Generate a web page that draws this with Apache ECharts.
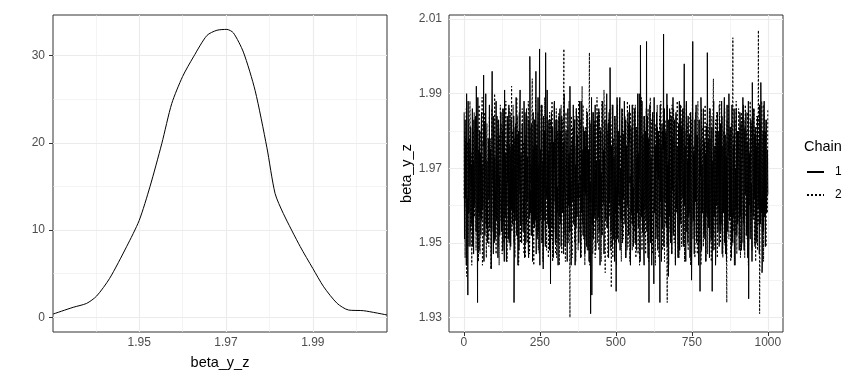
<!DOCTYPE html>
<html><head><meta charset="utf-8">
<script src="https://cdn.jsdelivr.net/npm/echarts@6/dist/echarts.min.js"></script>
<style>html,body{margin:0;padding:0;background:#fff}#c{width:864px;height:384px}</style>
</head><body><div id="c"></div>
<script>
// ---- density panel data ----
const densityX = [1.9302,1.9348,1.9379,1.9402,1.9432,1.9471,1.9500,1.9525,1.9552,1.9575,1.9600,1.9625,1.9656,1.9679,1.9702,1.9717,1.9740,1.9767,1.9794,1.9813,1.9832,1.9871,1.9900,1.9925,1.9956,1.9982,2.0017,2.0071];
const densityY = [0.38,1.15,1.6,2.44,4.47,8.1,11.1,15.0,19.9,24.5,27.6,29.85,32.3,32.9,33.0,32.6,30.4,26.0,19.5,14.2,11.9,8.1,5.6,3.5,1.6,0.84,0.76,0.27];
const densXTicks = [1.95,1.97,1.99];
const densXMinor = [1.94,1.96,1.98,2.00];
const densYTicks = [0,10,20,30];
const densYMinor = [5,15,25];

// ---- trace panel data (iterations 1..1000) ----
const chain1 = [
1.985,1.951,1.970,1.983,1.962,1.969,1.976,1.944,1.990,1.977,1.957,1.962,1.936,1.988,1.961,1.958,1.978,1.973,1.968,1.949,1.958,1.981,1.975,1.965,1.971,1.955,1.955,1.986,1.949,1.970,1.972,1.947,1.983,1.979,1.960,1.961,1.966,1.984,1.979,1.953,
1.992,1.974,1.963,1.957,1.934,1.989,1.958,1.963,1.975,1.948,1.969,1.980,1.957,1.966,1.974,1.952,1.980,1.985,1.956,1.971,1.964,1.959,1.977,1.976,1.995,1.945,1.962,1.982,1.952,1.964,1.981,1.990,1.973,1.956,1.954,1.972,1.960,1.950,1.971,1.978,
1.977,1.962,1.964,1.987,1.955,1.954,1.973,1.975,1.969,1.943,1.958,1.981,1.996,1.968,1.966,1.959,1.947,1.984,1.978,1.950,1.972,1.973,1.951,1.961,1.961,1.988,1.975,1.956,1.984,1.977,1.963,1.946,1.954,1.983,1.980,1.965,1.968,1.952,1.957,1.979,
1.979,1.985,1.967,1.953,1.958,1.970,1.980,1.948,1.986,1.982,1.961,1.961,1.945,1.991,1.972,1.957,1.970,1.974,1.955,1.945,1.963,1.980,1.984,1.966,1.982,1.951,1.966,1.987,1.950,1.960,1.976,1.976,1.974,1.949,1.957,1.983,1.959,1.968,1.970,1.955,
1.976,1.958,1.962,1.984,1.934,1.947,1.971,1.977,1.981,1.965,1.956,1.989,1.960,1.952,1.979,1.971,1.972,1.944,1.965,1.980,1.948,1.963,1.974,1.986,1.991,1.955,1.959,1.974,1.957,1.950,1.968,1.982,1.978,1.967,1.953,1.959,1.964,1.988,1.977,1.946,
1.985,1.979,1.966,1.950,1.953,1.986,1.978,1.961,1.970,1.973,1.960,1.948,1.946,1.983,1.973,1.957,2.000,1.990,1.958,1.964,1.961,1.952,1.982,1.978,1.975,1.945,1.964,1.985,1.955,1.969,1.976,1.954,1.983,1.981,1.956,1.960,1.996,1.947,1.969,1.976,
1.951,1.966,1.975,1.989,1.972,1.953,1.963,1.980,2.002,1.944,1.970,1.975,1.958,1.961,1.981,1.987,1.977,1.950,1.957,1.972,1.943,1.984,1.972,1.956,1.980,1.978,1.961,1.949,2.001,1.982,1.967,1.963,1.962,1.991,1.979,1.955,1.974,1.970,1.954,1.983,
1.956,1.948,1.973,1.977,1.939,1.962,1.968,1.985,1.979,1.954,1.955,1.981,1.965,1.946,1.977,1.970,1.987,1.988,1.962,1.959,1.950,1.976,1.983,1.951,1.971,1.983,1.958,1.965,1.960,1.944,1.974,1.979,1.984,1.957,1.965,1.986,1.955,1.962,1.980,1.949,
1.973,1.984,1.959,1.958,1.962,1.975,1.977,1.947,1.980,1.990,1.964,1.963,1.949,1.952,1.971,1.980,1.976,1.968,1.956,1.945,1.958,1.986,1.980,1.960,1.969,1.974,1.967,1.953,1.992,1.982,1.960,1.966,1.944,1.949,1.975,1.977,1.978,1.961,1.963,1.987,
1.961,1.955,1.970,1.982,1.983,1.944,1.957,1.971,1.954,1.986,1.976,1.957,1.971,1.979,1.962,1.962,1.966,1.950,1.979,1.984,1.988,1.967,1.968,1.946,1.952,1.988,1.974,1.958,1.975,1.973,1.958,1.952,1.959,1.981,1.972,1.964,1.980,1.947,1.965,1.976,
1.963,1.980,1.958,1.949,1.977,1.985,1.969,1.960,1.948,1.975,1.975,1.945,1.972,1.983,1.961,1.966,1.931,1.954,1.966,1.989,1.936,1.958,1.955,1.977,1.985,1.951,1.973,1.982,1.957,1.963,1.978,1.987,1.970,1.948,1.960,1.972,1.962,1.956,1.976,1.984,
1.979,1.957,1.965,1.986,1.953,1.963,1.972,1.944,1.974,1.980,1.959,1.969,1.960,1.952,1.980,1.988,1.986,1.961,1.963,1.975,1.947,1.947,1.977,1.983,1.968,1.958,1.956,1.971,1.981,1.990,1.970,1.954,1.955,1.978,1.982,1.946,1.973,1.985,1.961,1.962,
1.997,1.982,1.969,1.953,1.958,1.976,1.975,1.949,1.976,1.987,1.962,1.960,1.951,1.973,1.967,1.945,1.984,1.981,1.958,1.965,1.937,1.956,1.974,1.989,1.971,1.951,1.980,1.979,1.963,1.964,1.960,1.984,1.989,1.948,1.966,1.970,1.956,1.958,1.978,1.986,
1.975,1.950,1.957,1.979,1.962,1.962,1.971,1.988,1.982,1.955,1.964,1.983,1.946,1.946,1.976,1.974,1.970,1.960,1.960,1.985,1.959,1.952,1.982,1.977,1.987,1.966,1.968,1.944,1.953,1.981,1.973,1.958,1.978,1.987,1.955,1.963,1.965,1.949,1.970,1.975,
1.983,1.986,1.966,1.957,1.950,1.981,1.978,1.948,1.973,1.972,1.958,1.990,1.961,1.954,1.974,1.967,1.990,1.983,1.963,1.945,2.003,1.978,1.969,1.961,1.957,1.988,1.977,1.953,1.979,1.975,1.961,1.947,1.944,1.984,1.981,1.959,1.972,1.980,1.956,1.964,
2.004,1.953,1.968,1.984,1.960,1.946,1.975,1.978,1.934,1.961,1.962,1.987,1.977,1.950,1.970,1.973,1.965,1.944,1.979,1.982,1.985,1.966,1.957,1.955,1.939,1.989,1.973,1.958,1.974,1.976,1.964,1.951,1.958,1.985,1.976,1.969,1.981,1.948,1.960,1.980,
1.967,1.978,1.972,1.952,1.934,1.987,1.961,1.963,1.976,1.945,1.969,1.982,1.954,1.958,1.980,1.975,2.006,1.949,1.958,1.986,1.962,1.961,1.974,1.979,1.980,1.954,1.965,1.990,1.949,1.966,1.971,1.947,1.941,1.983,1.977,1.957,1.986,1.972,1.963,1.950,
1.961,1.984,1.975,1.947,1.978,1.971,1.964,1.989,1.952,1.956,1.979,1.980,1.983,1.963,1.960,1.944,1.966,1.985,1.970,1.959,1.974,1.976,1.957,1.951,1.946,1.982,1.976,1.967,1.988,1.948,1.966,1.987,1.959,1.955,1.981,1.978,1.971,1.962,1.962,1.986,
1.955,1.949,1.973,1.981,1.998,1.960,1.967,1.976,1.964,1.945,1.982,1.988,1.979,1.953,1.958,1.972,1.950,1.984,1.971,1.957,1.976,1.979,1.963,1.946,1.961,1.985,1.978,1.964,1.940,1.951,1.969,1.982,2.004,1.959,1.956,1.974,1.968,1.947,1.975,1.983,
1.982,1.961,1.964,1.987,1.956,1.950,1.977,1.979,1.974,1.966,1.960,1.944,1.963,1.983,1.972,1.955,1.937,1.975,1.968,1.989,1.985,1.948,1.961,1.971,1.958,1.958,1.979,1.986,1.972,1.952,1.965,1.977,1.951,1.964,1.974,1.945,1.980,1.981,1.959,1.957,
2.001,1.983,1.970,1.954,1.962,1.978,1.978,1.946,1.977,1.986,1.963,1.962,1.954,1.951,1.975,1.981,1.937,1.967,1.972,1.948,1.983,1.988,1.958,1.957,1.966,1.974,1.976,1.944,1.948,1.980,1.969,1.960,1.975,1.985,1.961,1.953,1.960,1.976,1.980,1.949,
1.984,1.955,1.966,1.982,1.953,1.962,1.974,1.988,1.971,1.947,1.961,1.976,1.965,1.958,1.979,1.984,1.989,1.950,1.960,1.979,1.947,1.965,1.973,1.945,1.976,1.987,1.967,1.953,1.961,1.973,1.977,1.990,1.982,1.956,1.958,1.981,1.957,1.961,1.970,1.946,
1.973,1.987,1.962,1.951,1.950,1.975,1.976,1.957,1.986,1.983,1.968,1.944,1.963,1.970,1.959,1.986,1.978,1.952,1.974,1.980,1.955,1.961,1.980,1.977,1.969,1.948,1.963,1.985,1.984,1.959,1.957,1.982,1.948,1.950,1.972,1.973,1.974,1.989,1.965,1.956,
1.960,1.948,1.975,1.980,1.981,1.963,1.964,1.985,1.952,1.953,1.971,1.977,1.977,1.946,1.960,1.988,1.935,1.960,1.969,1.974,1.970,1.951,1.976,1.983,1.958,1.966,1.962,1.945,1.993,1.979,1.974,1.957,1.964,1.986,1.978,1.962,1.979,1.949,1.958,1.981,
1.956,1.976,1.971,1.950,1.975,1.984,1.963,1.959,1.961,1.972,1.977,1.947,1.987,1.986,1.966,1.955,1.993,1.981,1.958,1.962,1.942,1.944,1.973,1.979,1.980,1.953,1.965,1.988,1.957,1.965,1.979,1.949,1.972,1.983,1.962,1.958,1.968,1.975,1.974,1.963];
const chain2 = [
1.962,1.980,1.974,1.946,1.978,1.971,1.960,1.986,1.941,1.955,1.968,1.977,1.975,1.949,1.955,1.983,1.958,1.962,1.977,1.988,1.983,1.953,1.963,1.974,1.965,1.944,1.971,1.981,1.952,1.966,1.980,1.951,1.979,1.985,1.957,1.958,1.970,1.976,1.966,1.948,
1.956,1.983,1.972,1.952,1.981,1.977,1.961,1.945,1.963,1.987,1.976,1.964,1.947,1.950,1.967,1.980,1.976,1.958,1.958,1.989,1.944,1.947,1.973,1.973,1.972,1.961,1.960,1.984,1.985,1.955,1.969,1.978,1.959,1.946,1.978,1.982,1.968,1.966,1.955,1.951,
1.974,1.949,1.963,1.984,1.953,1.960,1.970,1.978,1.943,1.945,1.965,1.986,1.980,1.968,1.958,1.953,1.961,1.981,1.975,1.957,1.990,1.988,1.962,1.962,1.957,1.947,1.979,1.976,1.971,1.952,1.966,1.983,1.949,1.965,1.972,1.944,1.978,1.979,1.959,1.987,
1.964,1.956,1.976,1.981,1.982,1.947,1.961,1.986,1.955,1.963,1.973,1.950,1.969,1.979,1.957,1.955,1.951,1.988,1.970,1.960,1.977,1.945,1.964,1.983,1.960,1.969,1.975,1.952,1.986,1.977,1.960,1.948,1.958,1.985,1.968,1.961,1.992,1.953,1.971,1.980,
1.966,1.987,1.958,1.953,1.950,1.978,1.972,1.946,1.979,1.982,1.964,1.958,1.962,1.989,1.977,1.951,1.984,1.974,1.959,1.944,1.947,1.985,1.969,1.963,1.973,1.950,1.962,1.980,1.958,1.965,1.978,1.986,1.981,1.955,1.966,1.977,1.963,1.947,1.974,1.983,
1.954,1.946,1.969,1.979,1.976,1.955,1.961,1.984,1.968,1.950,1.975,1.988,1.985,1.962,1.963,1.947,1.952,1.981,1.972,1.966,1.971,1.952,1.958,1.986,1.994,1.958,1.967,1.975,1.959,1.944,1.976,1.983,1.978,1.957,1.960,1.989,1.961,1.953,1.973,1.978,
1.982,1.952,1.965,1.985,1.948,1.961,1.971,1.947,1.973,1.980,1.960,1.956,1.964,1.987,1.978,1.950,1.987,1.976,1.963,1.945,1.956,1.983,1.974,1.964,1.970,1.989,1.957,1.953,1.980,1.979,1.968,1.948,1.953,1.984,1.977,1.958,1.975,1.946,1.962,1.982,
1.960,1.985,1.970,1.949,1.983,1.979,1.963,1.956,1.951,1.988,1.976,1.945,1.972,1.975,1.959,1.953,1.966,1.982,1.974,1.961,1.978,1.947,1.965,1.986,1.946,1.957,1.972,1.980,1.969,1.950,1.961,1.977,1.985,1.944,1.967,1.983,1.957,1.963,1.979,1.987,
1.976,1.947,1.964,1.983,1.962,1.958,1.975,1.987,2.002,1.952,1.966,1.978,1.954,1.945,1.971,1.985,1.979,1.960,1.958,1.950,1.963,1.981,1.973,1.956,1.950,1.988,1.969,1.948,1.930,1.976,1.962,1.953,1.974,1.984,1.970,1.946,1.981,1.979,1.960,1.955,
1.958,1.984,1.972,1.950,1.970,1.976,1.963,1.945,1.948,1.986,1.977,1.957,1.984,1.980,1.960,1.948,1.961,1.988,1.968,1.962,1.975,1.953,1.961,1.983,1.955,1.946,1.974,1.978,1.992,1.955,1.965,1.987,1.966,1.951,1.959,1.973,1.952,1.944,1.975,1.981,
1.980,1.951,1.966,1.986,1.963,1.948,1.974,1.979,1.977,1.957,1.959,1.984,2.001,1.944,1.970,1.982,1.957,1.955,1.976,1.988,1.972,1.961,1.962,1.947,1.949,1.985,1.971,1.953,1.983,1.977,1.958,1.946,1.960,1.983,1.973,1.959,1.968,1.989,1.964,1.950,
1.985,1.977,1.961,1.948,1.954,1.985,1.970,1.956,1.975,1.981,1.964,1.945,1.962,1.988,1.977,1.952,1.979,1.979,1.960,1.960,1.991,1.984,1.967,1.949,1.942,1.973,1.973,1.987,1.971,1.954,1.963,1.980,1.958,1.946,1.972,1.983,1.976,1.957,1.958,1.986,
1.965,1.948,1.972,1.982,1.938,1.953,1.966,1.987,1.982,1.946,1.959,1.978,1.956,1.956,1.975,1.984,1.973,1.950,1.963,1.976,1.961,1.944,1.970,1.986,1.987,1.961,1.961,1.980,1.950,1.952,1.976,1.988,1.969,1.957,1.964,1.979,1.978,1.945,1.960,1.983,
1.953,1.986,1.968,1.951,1.974,1.980,1.960,1.957,1.964,1.984,1.975,1.946,1.983,1.977,1.962,1.953,1.948,1.988,1.971,1.949,1.970,1.982,1.966,1.960,1.959,1.945,1.978,1.985,1.981,1.955,1.958,1.979,1.955,1.948,1.969,1.987,1.972,1.962,1.965,1.950,
1.986,1.953,1.963,1.987,1.957,1.946,1.974,1.981,1.968,1.960,1.961,1.985,1.947,1.950,1.970,1.978,1.979,1.944,1.965,1.983,1.962,1.956,1.977,1.989,1.975,1.948,1.959,1.976,1.952,1.962,1.972,1.984,1.984,1.952,1.960,1.980,1.966,1.947,1.973,1.986,
1.958,1.982,1.970,1.950,1.977,1.986,1.964,1.945,1.963,1.979,1.976,1.955,1.989,1.988,1.961,1.961,1.951,1.983,1.968,1.947,1.973,1.976,1.959,1.953,1.960,1.985,1.974,1.958,1.982,1.944,1.966,1.981,1.954,1.957,1.972,1.987,1.971,1.951,1.962,1.978,
1.980,1.946,1.967,1.984,1.961,1.957,1.973,1.988,1.976,1.951,1.960,1.980,1.949,1.948,1.971,1.986,1.985,1.962,1.963,1.945,1.964,1.983,1.975,1.955,1.956,1.979,1.969,1.949,1.934,1.987,1.962,1.960,1.972,1.944,1.958,1.982,1.978,1.953,1.970,1.985,
1.962,1.983,1.974,1.947,1.987,1.980,1.963,1.954,1.953,1.986,1.969,1.950,1.970,1.977,1.977,1.945,1.958,1.984,1.961,1.958,1.981,1.988,1.966,1.952,1.946,1.975,1.972,1.946,1.975,1.982,1.960,1.956,1.965,1.987,1.976,1.949,1.983,1.979,1.964,1.961,
1.955,1.950,1.969,1.986,1.973,1.945,1.961,1.980,1.960,1.957,1.975,1.987,1.984,1.953,1.964,1.982,1.950,1.948,1.972,1.978,1.977,1.960,1.958,1.985,1.963,1.944,1.970,1.983,1.969,1.955,1.976,1.989,1.981,1.951,1.962,1.976,1.957,1.962,1.973,1.946,
1.974,1.985,1.963,1.953,1.952,1.979,1.972,1.947,1.982,1.988,1.960,1.956,1.966,1.983,1.975,1.950,1.978,1.976,1.965,1.944,1.948,1.986,1.970,1.961,1.971,1.981,1.961,1.949,1.959,1.978,1.977,1.954,1.986,1.987,1.967,1.945,1.962,1.982,1.959,1.958,
1.977,1.947,1.966,1.981,1.955,1.956,1.973,1.986,1.980,1.950,1.962,1.978,1.963,1.945,1.969,1.984,1.951,1.959,1.976,1.988,1.994,1.952,1.960,1.976,1.968,1.948,1.974,1.983,1.957,1.955,1.964,1.985,1.975,1.946,1.970,1.980,1.961,1.961,1.958,1.987,
1.983,1.988,1.968,1.950,1.954,1.977,1.975,1.955,1.972,1.984,1.961,1.946,1.960,1.980,1.971,1.958,1.978,1.986,1.964,1.949,1.949,1.975,1.977,1.944,1.934,1.983,1.966,1.957,1.976,1.987,1.960,1.951,1.963,1.979,1.973,1.962,1.981,1.945,1.962,1.982,
1.958,1.949,1.972,1.985,2.005,1.953,1.963,1.979,1.966,1.944,1.975,1.983,1.952,1.960,1.969,1.988,1.979,1.947,1.961,1.976,1.961,1.956,1.974,1.986,1.974,1.951,1.958,1.981,1.956,1.946,1.970,1.978,1.985,1.955,1.965,1.984,1.968,1.950,1.976,1.987,
1.955,1.983,1.964,1.946,1.977,1.987,1.970,1.957,1.962,1.980,1.976,1.951,1.981,1.985,1.960,1.944,1.950,1.978,1.972,1.960,1.973,1.988,1.963,1.953,1.959,1.982,1.968,1.948,1.984,1.976,1.975,1.956,1.966,1.986,1.961,1.950,1.952,1.981,1.971,1.945,
1.979,1.951,1.966,1.984,1.963,1.948,1.972,1.979,2.007,1.955,1.960,1.987,1.931,1.946,1.969,1.982,1.975,1.960,1.964,1.988,1.958,1.953,1.977,1.977,1.987,1.945,1.962,1.985,1.970,1.957,1.971,1.980,1.961,1.949,1.975,1.983,1.974,1.958,1.967,1.986];
const iterStep = 1;
const chainNames = ['1','2'];
const traceXTicks = [0,250,500,750,1000];
const traceXMinor = [125,375,625,875];
const traceYTicks = [1.93,1.95,1.97,1.99,2.01];
const traceYMinor = [1.94,1.96,1.98,2.00];

const font = '"Liberation Sans", Arial, sans-serif';
const chart = echarts.init(document.getElementById('c'), null, {renderer:'canvas'});

function gridMarks(xMaj, xMin, yMaj, yMin) {
  const d = [];
  xMaj.forEach(v => d.push({xAxis: v, lineStyle:{width:1.1, color:'#EBEBEB', type:'solid'}}));
  xMin.forEach(v => d.push({xAxis: v, lineStyle:{width:0.55, color:'#EBEBEB', type:'solid'}}));
  yMaj.forEach(v => d.push({yAxis: v, lineStyle:{width:1.1, color:'#EBEBEB', type:'solid'}}));
  yMin.forEach(v => d.push({yAxis: v, lineStyle:{width:0.55, color:'#EBEBEB', type:'solid'}}));
  return {silent:true, symbol:['none','none'], label:{show:false}, animation:false, z:1, data:d, emphasis:{disabled:true}};
}
function axisBase(ticks, fmt, margin) {
  return {
    axisLine:{show:false},
    axisTick:{show:true, customValues:ticks, length:4, lineStyle:{color:'#333333', width:1}},
    axisLabel:{customValues:ticks, formatter:fmt, color:'#4D4D4D', fontSize:12, fontFamily:font, margin:margin},
    splitLine:{show:false}, minorSplitLine:{show:false}
  };
}
const fmt2 = v => Number(v).toFixed(2);
const fmt0 = v => String(Math.round(v));

const option = {
  animation:false,
  backgroundColor:'#ffffff',
  title:{text:'Chain', left:804, top:139, padding:0, textStyle:{fontSize:14.5, fontWeight:'normal', color:'#000', fontFamily:font}},
  legend:{
    data:chainNames, orient:'vertical', left:806, top:166, padding:0, itemWidth:17, itemHeight:14, itemGap:11,
    itemStyle:{opacity:0},
    textStyle:{fontSize:12, color:'#000', fontFamily:font, padding:[0,0,0,6]}
  },
  grid:[
    {left:53, top:15, right:477, bottom:52, show:true, borderColor:'#333333', borderWidth:1, backgroundColor:'#fff'},
    {left:449, top:15, right:81, bottom:52, show:true, borderColor:'#333333', borderWidth:1, backgroundColor:'#fff'}
  ],
  xAxis:[
    Object.assign(axisBase(densXTicks, fmt2, 5), {type:'value', gridIndex:0, min:1.93015, max:2.00708,
      name:'beta_y_z', nameLocation:'middle', nameGap:23, nameTextStyle:{color:'#000', fontSize:14.5, fontFamily:font}}),
    Object.assign(axisBase(traceXTicks, fmt0, 5), {type:'value', gridIndex:1, min:-48.95, max:1049.95})
  ],
  yAxis:[
    Object.assign(axisBase(densYTicks, fmt0, 8), {type:'value', gridIndex:0, min:-1.68, max:34.65}),
    Object.assign(axisBase(traceYTicks, fmt2, 7), {type:'value', gridIndex:1, min:1.9261, max:2.0111,
      name:'beta_y_z', nameLocation:'middle', nameGap:32, nameRotate:90, nameTextStyle:{color:'#000', fontSize:14.5, fontFamily:font}})
  ],
  series:[
    {type:'line', xAxisIndex:0, yAxisIndex:0, data:[], z:1, markLine:gridMarks(densXTicks, densXMinor, densYTicks, densYMinor)},
    {type:'line', xAxisIndex:1, yAxisIndex:1, data:[], z:1, markLine:gridMarks(traceXTicks, traceXMinor, traceYTicks, traceYMinor)},
    {type:'line', name:'density', xAxisIndex:0, yAxisIndex:0, z:3, symbol:'none', smooth:0.25,
      data:densityX.map((x,i)=>[x, densityY[i]]), lineStyle:{color:'#000', width:1}},
    {type:'line', name:chainNames[0], xAxisIndex:1, yAxisIndex:1, z:3, symbol:'none', sampling:null,
      data:chain1.map((v,i)=>[i*iterStep+1, v]), lineStyle:{color:'#000', width:1, type:'solid'}, itemStyle:{color:'#000'}},
    {type:'line', name:chainNames[1], xAxisIndex:1, yAxisIndex:1, z:3, symbol:'none', sampling:null,
      data:chain2.map((v,i)=>[i*iterStep+1, v]), lineStyle:{color:'#000', width:1, type:[2,2]}, itemStyle:{color:'#000'}}
  ]
};
chart.setOption(option);
</script></body></html>
